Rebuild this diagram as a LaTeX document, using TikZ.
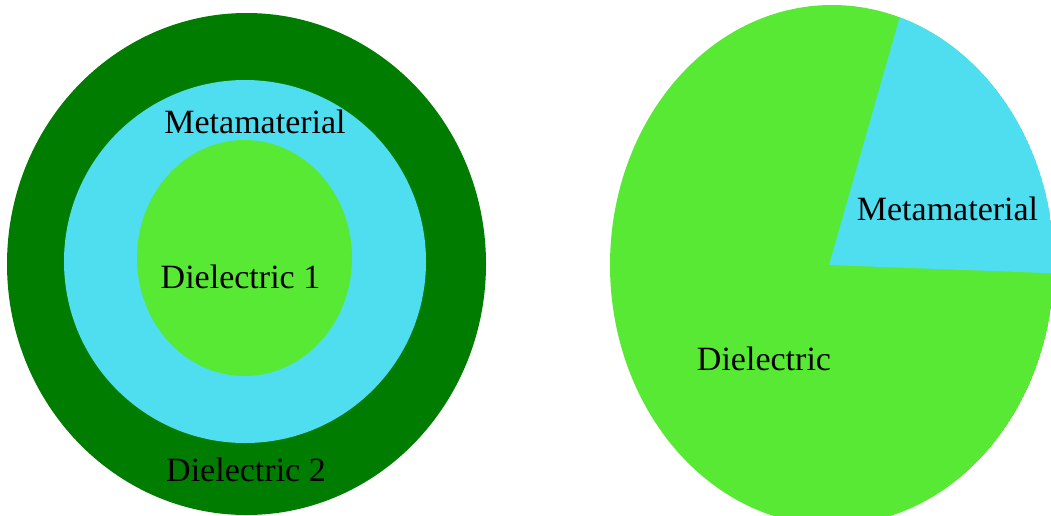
\documentclass[tikz,border=0pt]{standalone}
\usepackage{fontspec}
\setmainfont{Liberation Serif}
\usepackage{xcolor}
\definecolor{dgreen}{RGB}{0,124,0}
\definecolor{lgreen}{RGB}{88,233,52}
\definecolor{lcyan}{RGB}{78,222,240}

\begin{document}
\begin{tikzpicture}[x=1pt, y=-1pt, every node/.style={font=\fontsize{34}{41}\selectfont, inner sep=0pt, anchor=base}]
    \useasboundingbox (0,0) rectangle (1051,515);
    \clip (0,0) rectangle (1051,515);
    % layered cross-section
    \fill[dgreen] (246.5,264) ellipse [x radius=239.5, y radius=251];
    \fill[lcyan] (245,261.5) ellipse [x radius=181, y radius=181.5];
    \fill[lgreen] (244.5,258) ellipse [x radius=107.5, y radius=118];
    \node (meta1) at (255,133) {Metamaterial};
    \node (diel1) at (240.5,288) {Dielectric 1};
    \node (diel2) at (246,481) {Dielectric 2};
    % sector cross-section
    \begin{scope}
      \clip (832,265) ellipse [x radius=222, y radius=260];
      \fill[lgreen] (832,265) ellipse [x radius=222, y radius=260];
      \fill[lcyan] (829,265) -- (914,-33) -- (1100,-33) -- (1100,275) -- cycle;
    \end{scope}
    \node (meta2) at (947.5,220) {Metamaterial};
    \node (diel3) at (764,370) {Dielectric};
  \end{tikzpicture}
\end{document}
